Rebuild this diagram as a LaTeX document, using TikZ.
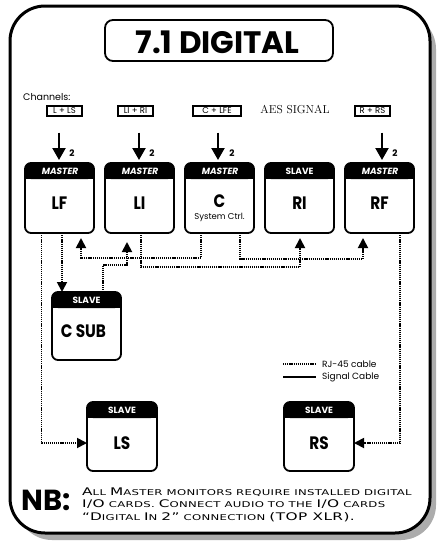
\documentclass[tikz,border=0pt]{standalone}
\usepackage{fontspec}
\usetikzlibrary{arrows.meta,calc}
\newfontfamily\pop{Poppins}
\newfontfamily\popc{Poppins}[FakeStretch=0.85]
\newfontfamily\popsl{Poppins}[FakeSlant=0.18]
\newfontfamily\nbf{DejaVu Sans}[FakeStretch=1.46,LetterSpace=4]
\newcommand\bigc[1]{{\fontsize{10.5}{10.5}\selectfont #1}}
\tikzset{
  monbox/.style={draw, line width=1.8pt, rounded corners=6pt, fill=white, inner sep=0pt, outer sep=0pt},
  hdr/.style={text=white, font=\pop\bfseries\fontsize{9}{9}\selectfont, inner sep=0pt},
  lbl/.style={font=\popc\bfseries\fontsize{18}{18}\selectfont, inner sep=0pt},
  chan/.style={draw, line width=1.2pt, inner sep=0pt, minimum height=10pt, font=\pop\fontsize{8.5}{8.5}\selectfont},
  sig/.style={line width=2.2pt, -{Triangle[width=13pt,length=12pt]}},
  rjl/.style={line width=1.8pt, dash pattern=on 1.2pt off 0.9pt},
  rj/.style={rjl, -{Triangle[width=10pt,length=10pt]}},
  twolbl/.style={font=\pop\bfseries\fontsize{9}{9}\selectfont, inner sep=0pt},
  nbline/.style={anchor=base west, inner sep=0pt, font=\nbf\fontsize{8}{8}\selectfont},
}
\newcommand\mybox[6]{%
  \node[monbox, minimum width=#4pt, minimum height=#5pt, anchor=north west] (#1) at (#2,#3) {};
  \fill[rounded corners=6pt] (#1.north west) rectangle ($(#1.north east)+(0,16)$);
  \fill ($(#1.north west)+(0,8)$) rectangle ($(#1.north east)+(0,16)$);
  \node[hdr] (#1-h) at ($(#1.north)+(0,8.5)$) {#6};
}
\begin{document}
\begin{tikzpicture}[x=1pt,y=-1pt]
\useasboundingbox (0,0) rectangle (438,546);
\fill[white] (0,0) rectangle (438,546);
% frame
\fill[gray!65, rounded corners=35pt] (17,14) rectangle (436,540);
\draw[line width=3pt, fill=white, rounded corners=35pt] (10,6) rectangle (430,533);
% title
\node[draw, line width=1.8pt, rounded corners=8pt, minimum width=228pt, minimum height=41pt, inner sep=0pt] (title) at (219,40.5) {};
\node[font=\pop\bfseries\fontsize{31}{31}\selectfont, inner sep=0pt] (titletext) at (217.5,42.5) {7.1 DIGITAL};
% channels
\node[anchor=base west, inner sep=0pt, font=\pop\fontsize{9.5}{9.5}\selectfont] (chans) at (23,100) {Channels:};
\node[chan, minimum width=35pt] (chLF) at (64.5,111) {L + LS};
\node[chan, minimum width=35pt] (chLI) at (135.5,111) {LI + RI};
\node[chan, minimum width=48pt] (chC) at (217,111) {C + LFE};
\node[chan, minimum width=35pt] (chRF) at (372.5,111) {R + RS};
\node[font=\fontsize{11.5}{11.5}\selectfont, inner sep=0pt] (aes) at (295,110) {AES SIGNAL};
% monitors
\mybox{LF}{25}{163}{69}{70}{{\popsl MASTER}}
\mybox{LI}{105}{163}{69}{70}{{\popsl MASTER}}
\mybox{C}{185}{163}{69}{70}{{\popsl MASTER}}
\mybox{RI}{265}{163}{69}{70}{SLAVE}
\mybox{RF}{345}{163}{69}{70}{{\popsl MASTER}}
\mybox{CSUB}{52}{292}{69}{68}{SLAVE}
\mybox{LS}{87}{402}{70}{69}{SLAVE}
\mybox{RS}{284}{402}{70}{69}{SLAVE}
\node[lbl] (LF-l) at ($(LF.center)+(0,5)$) {LF};
\node[lbl] (LI-l) at ($(LI.center)+(0,5)$) {LI};
\node[lbl] (C-l) at ($(C.center)+(0,3.5)$) {C};
\node[font=\pop\fontsize{8.5}{8.5}\selectfont, inner sep=0pt] (C-s) at ($(C.center)+(0,19)$) {System Ctrl.};
\node[lbl] (RI-l) at ($(RI.center)+(0,5)$) {RI};
\node[lbl] (RF-l) at ($(RF.center)+(0,5)$) {RF};
\node[lbl] (CSUB-l) at ($(CSUB.center)+(-3,5)$) {C SUB};
\node[lbl] (LS-l) at ($(LS.center)+(0,7)$) {LS};
\node[lbl] (RS-l) at ($(RS.center)+(0,7)$) {RS};
% signal arrows
\draw[sig] ($(chLF.south)+(-5.5,16)$) -- ($(LF.north)+(-0.5,-3)$);
\draw[sig] ($(chLI.south)+(3.5,16)$) -- ($(LI.north)+(-0.5,-3)$);
\draw[sig] ($(chC.south)+(1,16)$) -- ($(C.north)+(-1.5,-3)$);
\draw[sig] ($(chRF.south)+(9.5,16)$) -- ($(RF.north)+(2.5,-3)$);
\node[twolbl] (two1) at (72,153) {2};
\node[twolbl] (two2) at (152,153) {2};
\node[twolbl] (two3) at (232,153) {2};
\node[twolbl] (two4) at (395,153) {2};
% RJ-45 connections
\draw[rj] ($(LF.south west)+(16.5,0)$) |- ($(LS.west)+(0,6.5)$);
\draw[rj] ($(LF.south west)+(37,0)$) -- ($(CSUB.north west)+(10,0)$);
\draw[rj] ($(C.south west)+(16,0)$) -- ++(0,25) -| ($(LF.south west)+(56,5)$);
\draw[rj] ($(CSUB.north west)+(51,0)$) -- ++(0,-27) -| ($(LI.south west)+(22,9)$);
\draw[rj] ($(LI.south west)+(36,0)$) -- ++(0,34) -| ($(RI.south west)+(35,5)$);
\draw[rj] ($(C.south west)+(55,0)$) -- ++(0,26) -| ($(RF.south west)+(18,5)$);
\draw[rj] ($(RF.south west)+(55,0)$) |- ($(RS.east)+(0,6.5)$);
% legend
\node[anchor=west, inner sep=2pt, font=\pop\fontsize{9}{9}\selectfont] (legrj) at (320,364) {RJ-45 cable};
\node[anchor=west, inner sep=2pt, font=\pop\fontsize{9}{9}\selectfont] (legsig) at (320,377) {Signal Cable};
\draw[rjl, line width=1.5pt] ($(legrj.west)+(-37,0)$) -- ($(legrj.west)+(-4,0)$);
\draw[line width=1.5pt] ($(legsig.west)+(-37,0)$) -- ($(legsig.west)+(-4,0)$);
% NB
\node[anchor=base west, inner sep=0pt, font=\pop\bfseries\fontsize{29}{29}\selectfont] (nb) at (21,510) {NB:};
\node[nbline] (nb1) at (82,495) {\bigc{A}LL \bigc{M}ASTER MONITORS REQUIRE INSTALLED DIGITAL};
\node[nbline] (nb2) at (82,507.5) {\bigc{I/O} CARDS. \bigc{C}ONNECT AUDIO TO THE \bigc{I/O} CARDS};
\node[nbline] (nb3) at (82,520) {\bigc{“D}IGITAL \bigc{I}N \bigc{2”} CONNECTION \bigc{(TOP XLR).}};
\end{tikzpicture}
\end{document}
